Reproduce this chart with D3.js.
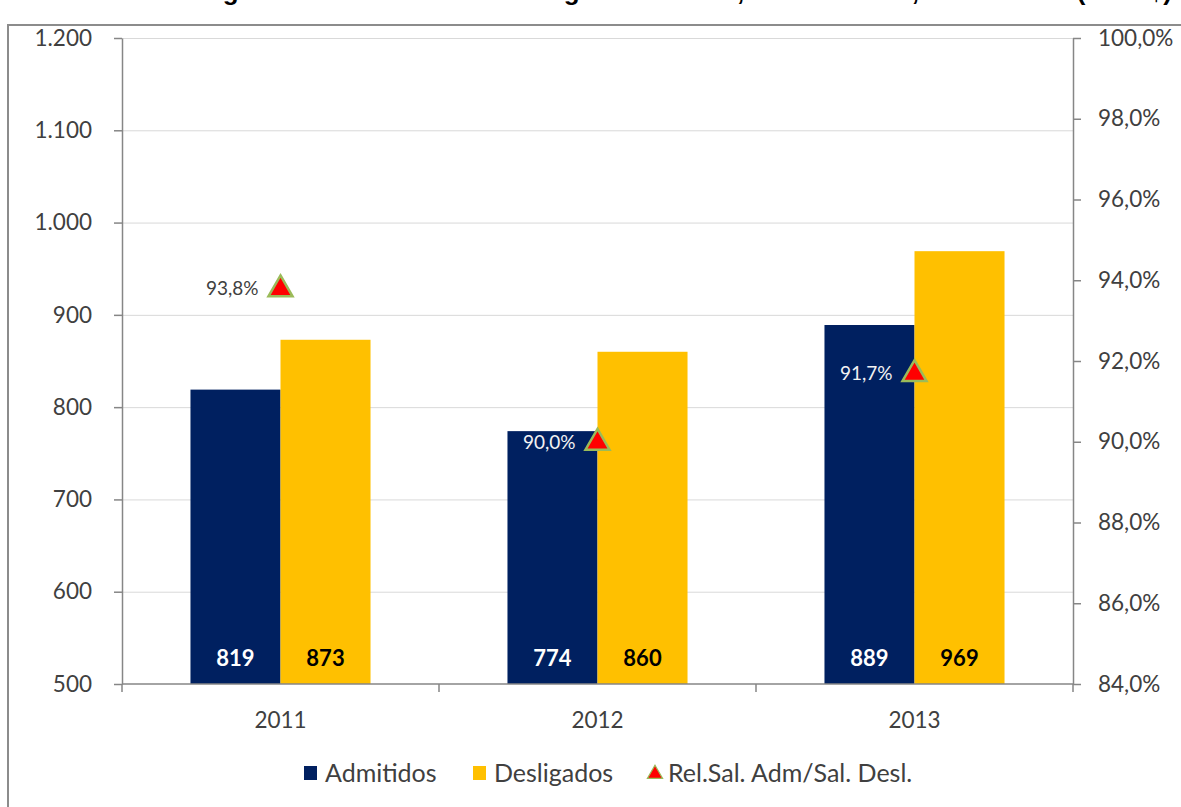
<!DOCTYPE html>
<html>
<head>
<meta charset="utf-8">
<script src="https://cdn.jsdelivr.net/npm/d3@7"></script>
<style>
  html, body { margin: 0; padding: 0; background: #fff; }
  svg { display: block; }
  text { font-family: Lato, "Open Sans", sans-serif; }
</style>
</head>
<body>
<svg id="chart" width="1181" height="807"></svg>
<script>
// Salário médio real: admitidos x desligados, e relação entre eles
const years = ["2011", "2012", "2013"];
const admitidos = [819, 774, 889];
const desligados = [873, 860, 969];
const relacao = [0.938, 0.900, 0.917];
const leftTicks = [500, 600, 700, 800, 900, 1000, 1100, 1200];
const rightTicks = [0.84, 0.86, 0.88, 0.90, 0.92, 0.94, 0.96, 0.98, 1.00];
const seriesNames = ["Admitidos", "Desligados", "Rel.Sal. Adm/Sal. Desl."];
const titleText = "Salário Médio Real de Admissão e Desligamento na Indústria da Região Nordeste, Setor Formal, 2011 a 2013 (em R$)";

const colAdm = "#002060", colDes = "#FFC000", colRel = "#FF0000", colRelStroke = "#9BBB59";
const axisCol = "#868686", gridCol = "#D9D9D9", textCol = "#404040";

const br = d3.formatLocale({ decimal: ",", thousands: ".", grouping: [3], currency: ["R$ ", ""] });
const fmtInt = br.format(",");
const fmtPct = br.format(".1%");

const svg = d3.select("#chart");
const plot = { left: 122, right: 1073, top: 38, bottom: 684 };

// Outer frame (the title sits above it, mostly outside the canvas)
svg.append("rect")
  .attr("x", 8).attr("y", 25).attr("width", 1200).attr("height", 820)
  .attr("fill", "none").attr("stroke", "#8C8C8C").attr("stroke-width", 2);

svg.append("text")
  .attr("x", 1172).attr("y", -0.5)
  .attr("text-anchor", "end")
  .style("font-family", "'Liberation Sans', Arial, sans-serif")
  .style("font-weight", "bold").style("font-size", "26px")
  .attr("fill", "#000")
  .text(titleText);

const x = d3.scaleBand().domain(years).range([plot.left, plot.right]).paddingInner(0.432).paddingOuter(0.216);
const xSub = d3.scaleBand().domain(["adm", "des"]).range([0, x.bandwidth()]);
const yL = d3.scaleLinear().domain([500, 1200]).range([plot.bottom, plot.top]);
const yR = d3.scaleLinear().domain([0.84, 1.0]).range([plot.bottom, plot.top]);

// Gridlines
svg.append("g").selectAll("line")
  .data(leftTicks.filter(t => t > 500))
  .join("line")
  .attr("x1", plot.left).attr("x2", plot.right)
  .attr("y1", d => yL(d) + 0.5).attr("y2", d => yL(d) + 0.5)
  .attr("stroke", gridCol).attr("stroke-width", 1);

// Bars
const groups = svg.append("g").selectAll("g")
  .data(years.map((y, i) => ({ year: y, adm: admitidos[i], des: desligados[i], rel: relacao[i] })))
  .join("g")
  .attr("transform", d => `translate(${x(d.year)},0)`);

groups.append("rect")
  .attr("x", xSub("adm")).attr("width", xSub.bandwidth())
  .attr("y", d => yL(d.adm)).attr("height", d => yL(500) - yL(d.adm))
  .attr("fill", colAdm);
groups.append("rect")
  .attr("x", xSub("des")).attr("width", xSub.bandwidth())
  .attr("y", d => yL(d.des)).attr("height", d => yL(500) - yL(d.des))
  .attr("fill", colDes);

groups.append("text")
  .attr("x", xSub("adm") + xSub.bandwidth() / 2).attr("y", yL(500) - 18)
  .attr("text-anchor", "middle").style("font-weight", "bold").style("font-size", "22px")
  .attr("fill", "#fff").text(d => fmtInt(d.adm));
groups.append("text")
  .attr("x", xSub("des") + xSub.bandwidth() / 2).attr("y", yL(500) - 18)
  .attr("text-anchor", "middle").style("font-weight", "bold").style("font-size", "22px")
  .attr("fill", "#000").text(d => fmtInt(d.des));

// Axes
function styleAxis(g) {
  g.selectAll(".domain").attr("stroke", axisCol).attr("stroke-width", 1.5);
  g.selectAll(".tick line").attr("stroke", axisCol).attr("stroke-width", 1.5);
  g.selectAll(".tick text").attr("fill", textCol).style("font-size", "22.5px").style("font-family", "Lato, sans-serif");
}

svg.append("g")
  .attr("transform", `translate(${plot.left},0)`)
  .call(d3.axisLeft(yL).tickValues(leftTicks).tickFormat(fmtInt).tickSizeInner(8).tickSizeOuter(0).tickPadding(22))
  .call(styleAxis);

svg.append("g")
  .attr("transform", `translate(${plot.right},0)`)
  .call(d3.axisRight(yR).tickValues(rightTicks).tickFormat(fmtPct).tickSizeInner(8).tickSizeOuter(0).tickPadding(17))
  .call(styleAxis);

// Category axis: ticks on band boundaries, labels centred in each band
const xAxis = svg.append("g").attr("transform", `translate(0,${plot.bottom})`);
xAxis.append("line").attr("x1", plot.left).attr("x2", plot.right)
  .attr("stroke", axisCol).attr("stroke-width", 1.5);
const step = x.step();
xAxis.selectAll("line.tk")
  .data(d3.range(years.length + 1))
  .join("line").attr("class", "tk")
  .attr("x1", i => plot.left + i * step).attr("x2", i => plot.left + i * step)
  .attr("y1", 0).attr("y2", 8)
  .attr("stroke", axisCol).attr("stroke-width", 1.5);
xAxis.selectAll("text")
  .data(years)
  .join("text")
  .attr("x", d => x(d) + x.bandwidth() / 2).attr("y", 44)
  .attr("text-anchor", "middle").attr("fill", textCol).style("font-size", "22.5px")
  .text(d => d);

// Ratio markers (right axis)
const tri = d3.symbol().type(d3.symbolTriangle).size(250);
groups.append("path")
  .attr("d", tri)
  .attr("transform", d => `translate(${x.bandwidth() / 2},${yR(d.rel) + 1})`)
  .attr("fill", colRel).attr("stroke", colRelStroke).attr("stroke-width", 2.5);

groups.append("text")
  .attr("x", x.bandwidth() / 2 - 22)
  .attr("y", d => yR(d.rel) + 7)
  .attr("text-anchor", "end").style("font-size", "19px")
  .attr("fill", d => yL.invert(yR(d.rel)) < d.adm ? "#F2F2F2" : textCol)
  .text(d => fmtPct(d.rel));

// Legend
const legend = svg.append("g").attr("transform", "translate(0,773)");
const legendItems = [
  { name: seriesNames[0], x: 304, kind: "rect", color: colAdm },
  { name: seriesNames[1], x: 473, kind: "rect", color: colDes },
  { name: seriesNames[2], x: 647, kind: "tri", color: colRel }
];
legendItems.forEach(it => {
  if (it.kind === "rect") {
    legend.append("rect").attr("x", it.x).attr("y", -7).attr("width", 13).attr("height", 14).attr("fill", it.color);
  } else {
    legend.append("path").attr("d", d3.symbol().type(d3.symbolTriangle).size(100))
      .attr("transform", `translate(${it.x + 8},1)`)
      .attr("fill", it.color).attr("stroke", colRelStroke).attr("stroke-width", 1.2);
  }
  legend.append("text").attr("x", it.x + 21).attr("y", 9)
    .attr("fill", textCol).style("font-size", "25px").text(it.name);
});
</script>
</body>
</html>
